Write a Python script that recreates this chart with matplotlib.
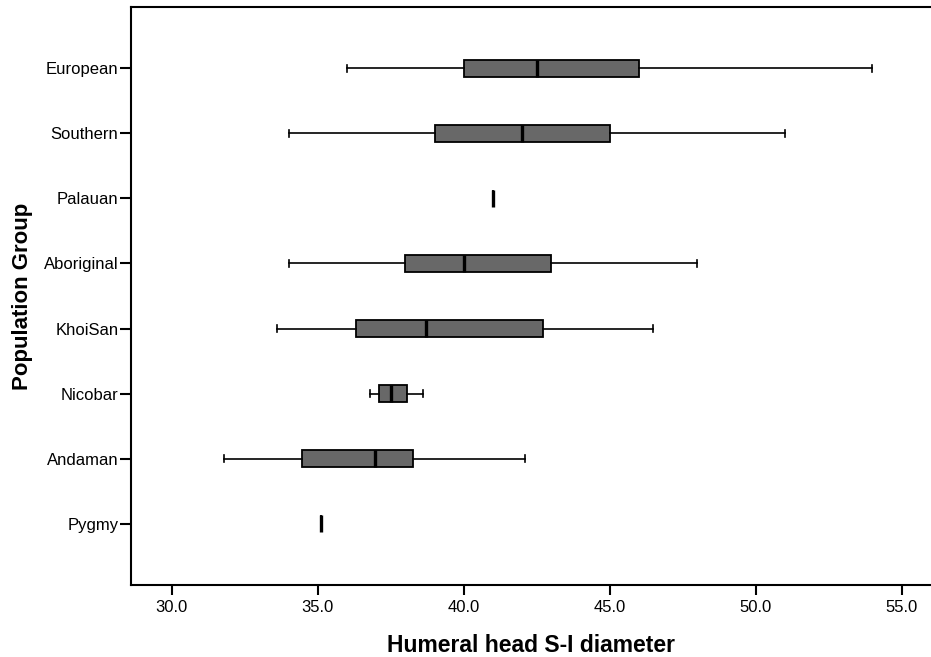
import matplotlib
matplotlib.use("Agg")
import matplotlib.pyplot as plt
from matplotlib.ticker import FormatStrFormatter

plt.rcParams['font.family'] = ['Liberation Sans', 'DejaVu Sans']

# groups listed bottom to top
groups = ["Pygmy", "Andaman", "Nicobar", "KhoiSan",
          "Aboriginal", "Palauan", "Southern", "European"]
whis_low = [35.1, 31.8, 36.8, 33.6, 34.0, 41.0, 34.0, 36.0]
q1 = [35.1, 34.45, 37.1, 36.3, 38.0, 41.0, 39.0, 40.0]
median = [35.1, 36.95, 37.5, 38.7, 40.0, 41.0, 42.0, 42.5]
q3 = [35.1, 38.25, 38.05, 42.7, 43.0, 41.0, 45.0, 46.0]
whis_high = [35.1, 42.1, 38.6, 46.5, 48.0, 41.0, 51.0, 54.0]

stats = []
for i, name in enumerate(groups):
    stats.append(dict(label=name, whislo=whis_low[i], q1=q1[i], med=median[i],
                      q3=q3[i], whishi=whis_high[i], fliers=[]))

fig = plt.figure(figsize=(9.31, 6.57), dpi=100)
ax = fig.add_axes([0.1407, 0.1096, 0.859, 0.8797])

ax.bxp(stats, positions=range(len(groups)), orientation='horizontal',
       widths=0.26, capwidths=0.11, patch_artist=True, showfliers=False,
       boxprops=dict(facecolor='#686868', edgecolor='black', linewidth=1.3),
       medianprops=dict(color='black', linewidth=2.4, solid_capstyle='butt'),
       whiskerprops=dict(color='black', linewidth=1.2),
       capprops=dict(color='black', linewidth=1.2))

ax.set_xlim(28.6, 56.0)
ax.set_ylim(-0.94, len(groups) - 1 + 0.94)
ax.set_xticks([30, 35, 40, 45, 50, 55])
ax.xaxis.set_major_formatter(FormatStrFormatter('%.1f'))
ax.set_yticks(range(len(groups)))
ax.set_yticklabels(groups)

ax.spines['right'].set_visible(False)
for s in ['left', 'top', 'bottom']:
    ax.spines[s].set_linewidth(1.5)

ax.tick_params(axis='both', labelsize=12, width=1.5, color='black')
ax.tick_params(axis='y', length=8, pad=1)
ax.tick_params(axis='x', length=7.5, pad=3)

ax.set_xlabel("Humeral head S-I diameter", fontsize=16.5, fontweight='bold', labelpad=14)
ax.set_ylabel("Population Group", fontsize=16, fontweight='bold', labelpad=8)

fig.savefig("out.png", dpi=100)
